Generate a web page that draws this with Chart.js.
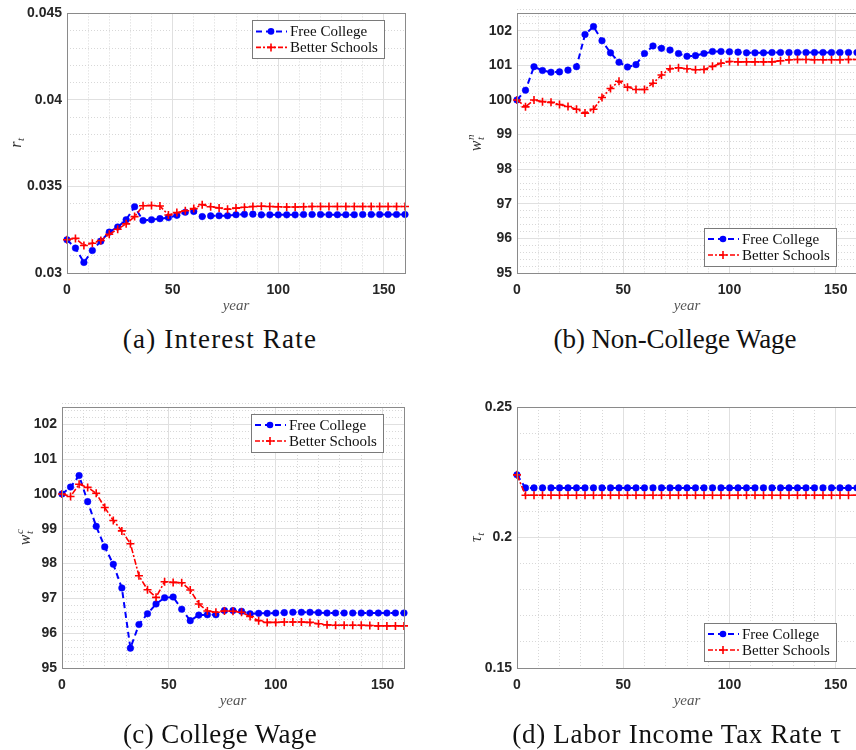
<!DOCTYPE html>
<html><head><meta charset="utf-8">
<script src="https://cdn.jsdelivr.net/npm/chart.js@4.4.1/dist/chart.umd.min.js"></script>
<style>
html,body{margin:0;padding:0;background:#fff;width:856px;height:750px;overflow:hidden;position:relative;}
canvas{position:absolute;}
.cap{position:absolute;font-family:"Liberation Serif","Times New Roman",serif;font-size:27px;color:#111;white-space:nowrap;transform:translate(-50%,-50%);line-height:1;}
</style></head><body>
<canvas id="pa" width="430" height="320" style="left:0;top:0"></canvas>
<canvas id="pb" width="440" height="320" style="left:430px;top:0"></canvas>
<canvas id="pc" width="430" height="330" style="left:0;top:390px"></canvas>
<canvas id="pd" width="440" height="330" style="left:430px;top:390px"></canvas>
<div class="cap" id="capA" style="left:220px;top:339px;letter-spacing:1.2px">(a) Interest Rate</div>
<div class="cap" id="capB" style="left:675px;top:339px;letter-spacing:-0.1px">(b) Non-College Wage</div>
<div class="cap" id="capC" style="left:220px;top:734px;letter-spacing:0.4px">(c) College Wage</div>
<div class="cap" id="capD" style="left:677px;top:734px;letter-spacing:0.7px">(d) Labor Income Tax Rate τ</div>
<script>
// ---------- data ----------
const years = [0,4,8,12,16,20,24,28,32,36,40,44,48,52,56,60,64,68,72,76,80,84,88,92,96,100,104,108,112,116,120,124,128,132,136,140,144,148,152,156,160];
const seriesNames = ['Free College', 'Better Schools'];
const xTicks = [0, 50, 100, 150];
const xTickLabels = ['0', '50', '100', '150'];
const xTitle = 'year';

const rateFree = [0.03192,0.03144,0.03061,0.03130,0.03184,0.03236,0.03266,0.03308,0.03383,0.03303,0.03308,0.03314,0.03320,0.03333,0.03351,0.03356,0.03326,0.03330,0.03331,0.03331,0.03337,0.03339,0.03340,0.03336,0.03336,0.03336,0.03336,0.03336,0.03338,0.03338,0.03338,0.03337,0.03337,0.03337,0.03337,0.03338,0.03338,0.03338,0.03338,0.03338,0.03338];
const rateSchools = [0.03192,0.03200,0.03159,0.03172,0.03188,0.03224,0.03253,0.03284,0.03326,0.03389,0.03390,0.03387,0.03335,0.03349,0.03360,0.03372,0.03395,0.03383,0.03376,0.03368,0.03375,0.03380,0.03384,0.03386,0.03384,0.03383,0.03381,0.03381,0.03383,0.03384,0.03384,0.03384,0.03384,0.03384,0.03384,0.03384,0.03384,0.03384,0.03384,0.03384,0.03384];
const rateTicks = [0.03, 0.035, 0.04, 0.045];
const rateTickLabels = ['0.03', '0.035', '0.04', '0.045'];

const wnFree = [100.00,100.28,100.96,100.85,100.80,100.81,100.86,100.96,101.89,102.12,101.71,101.36,101.09,100.95,101.02,101.34,101.56,101.49,101.44,101.34,101.26,101.28,101.34,101.40,101.40,101.39,101.38,101.36,101.36,101.36,101.37,101.37,101.37,101.37,101.37,101.37,101.37,101.37,101.37,101.37,101.37];
const wnSchools = [100.00,99.80,100.00,99.95,99.93,99.87,99.81,99.73,99.62,99.73,100.07,100.33,100.54,100.37,100.30,100.30,100.48,100.72,100.90,100.93,100.90,100.87,100.88,100.97,101.06,101.11,101.10,101.10,101.10,101.10,101.10,101.13,101.16,101.17,101.17,101.16,101.16,101.16,101.16,101.17,101.17];
const wageTicks = [95, 96, 97, 98, 99, 100, 101, 102];
const wageTickLabels = ['95', '96', '97', '98', '99', '100', '101', '102'];

const wcFree = [100.00,100.20,100.53,99.78,99.07,98.48,97.98,97.30,95.57,96.25,96.56,96.84,97.02,97.04,96.69,96.36,96.52,96.53,96.53,96.65,96.65,96.63,96.56,96.57,96.57,96.58,96.59,96.60,96.60,96.60,96.59,96.58,96.58,96.58,96.58,96.58,96.58,96.58,96.58,96.58,96.58];
const wcSchools = [100.00,99.93,100.28,100.19,100.02,99.61,99.24,98.94,98.57,97.65,97.25,97.03,97.48,97.46,97.45,97.24,96.84,96.64,96.60,96.64,96.63,96.60,96.48,96.36,96.31,96.31,96.32,96.32,96.32,96.31,96.27,96.24,96.23,96.23,96.23,96.23,96.22,96.21,96.21,96.21,96.21];

const taxFree = [0.2240,0.2190,0.2190,0.2190,0.2190,0.2190,0.2190,0.2190,0.2190,0.2190,0.2190,0.2190,0.2190,0.2190,0.2190,0.2190,0.2190,0.2190,0.2190,0.2190,0.2190,0.2190,0.2190,0.2190,0.2190,0.2190,0.2190,0.2190,0.2190,0.2190,0.2190,0.2190,0.2190,0.2190,0.2190,0.2190,0.2190,0.2190,0.2190,0.2190,0.2190];
const taxSchools = [0.2240,0.2162,0.2162,0.2162,0.2162,0.2162,0.2162,0.2162,0.2162,0.2162,0.2162,0.2162,0.2162,0.2162,0.2162,0.2162,0.2162,0.2162,0.2162,0.2162,0.2162,0.2162,0.2162,0.2162,0.2162,0.2162,0.2162,0.2162,0.2162,0.2162,0.2162,0.2162,0.2162,0.2162,0.2162,0.2162,0.2162,0.2162,0.2162,0.2162,0.2162];
const taxTicks = [0.15, 0.2, 0.25];
const taxTickLabels = ['0.15', '0.2', '0.25'];

// ---------- styling ----------
const BLUE = '#0000ff', RED = '#ff0000';
const TICK_FONT = {family: '"Liberation Sans", Arial, sans-serif', size: 14, weight: 'bold'};
const SERIF = '"Liberation Serif", "Times New Roman", serif';

function isMajor(v, step) { const r = v / step; return Math.abs(r - Math.round(r)) < 1e-6; }
function range(a, b, s) { const out = []; const n = Math.round((b - a) / s); for (let i = 0; i <= n; i++) out.push(+(a + i * s).toFixed(6)); return out; }

const framePlugin = {
  id: 'frame',
  afterDatasetsDraw(chart, args, o) {
    const {ctx, chartArea: a} = chart;
    ctx.save();
    ctx.strokeStyle = '#8a8a8a'; ctx.lineWidth = 1;
    ctx.strokeRect(Math.round(a.left) + 0.5, Math.round(a.top) + 0.5, Math.round(a.right - a.left), Math.round(a.bottom - a.top));
    ctx.restore();
    // legend box
    const bw = 132, bh = 38;
    const x = a.right - o.right - bw;
    const y = o.corner === 'ne' ? a.top + o.off : a.bottom - o.off - bh;
    ctx.save();
    ctx.fillStyle = '#fff'; ctx.fillRect(x, y, bw, bh);
    ctx.strokeStyle = '#7a7a7a'; ctx.lineWidth = 1;
    ctx.strokeRect(Math.round(x) + 0.5, Math.round(y) + 0.5, bw, bh);
    const rows = [y + 11, y + 27];
    // Free College sample
    ctx.strokeStyle = BLUE; ctx.lineWidth = 2; ctx.setLineDash([6, 4]);
    ctx.beginPath(); ctx.moveTo(x + 4, rows[0]); ctx.lineTo(x + 35, rows[0]); ctx.stroke();
    ctx.setLineDash([]);
    ctx.fillStyle = BLUE; ctx.beginPath(); ctx.arc(x + 19, rows[0], 3.3, 0, Math.PI * 2); ctx.fill();
    // Better Schools sample
    ctx.strokeStyle = RED; ctx.lineWidth = 1.6; ctx.setLineDash([5, 2, 2, 2]);
    ctx.beginPath(); ctx.moveTo(x + 4, rows[1]); ctx.lineTo(x + 35, rows[1]); ctx.stroke();
    ctx.setLineDash([]);
    ctx.lineWidth = 1.6;
    ctx.beginPath(); ctx.moveTo(x + 15, rows[1]); ctx.lineTo(x + 23, rows[1]); ctx.moveTo(x + 19, rows[1] - 4); ctx.lineTo(x + 19, rows[1] + 4); ctx.stroke();
    ctx.fillStyle = '#111'; ctx.font = '15px ' + SERIF; ctx.textBaseline = 'middle'; ctx.textAlign = 'left';
    ctx.fillText(seriesNames[0], x + 38, rows[0] + 1);
    ctx.fillText(seriesNames[1], x + 38, rows[1] + 1);
    ctx.restore();
    // y-axis label (rotated, with sub/superscript)
    const yl = o.ylabel;
    ctx.save();
    ctx.translate(yl.x, (a.top + a.bottom) / 2);
    ctx.rotate(-Math.PI / 2);
    ctx.fillStyle = '#333'; ctx.textBaseline = 'alphabetic'; ctx.textAlign = 'left';
    ctx.font = 'italic 16px ' + SERIF;
    const mw = ctx.measureText(yl.main).width;
    ctx.font = 'italic 11px ' + SERIF;
    const sw = Math.max(ctx.measureText(yl.sub).width, yl.sup ? ctx.measureText(yl.sup).width : 0);
    const x0 = -(mw + sw) / 2, base = 5;
    ctx.font = 'italic 16px ' + SERIF; ctx.fillText(yl.main, x0, base);
    ctx.font = 'italic 11px ' + SERIF;
    ctx.fillText(yl.sub, x0 + mw + 0.5, base + 3);
    if (yl.sup) ctx.fillText(yl.sup, x0 + mw + 0.5, base - 7);
    ctx.restore();
  }
};

function makeChart(id, g) {
  const W = g.W, H = g.H;
  const free = years.map((x, i) => ({x, y: g.free[i]}));
  const schools = years.map((x, i) => ({x, y: g.schools[i]}));
  return new Chart(document.getElementById(id), {
    type: 'line',
    data: {
      datasets: [
        {label: seriesNames[1], data: schools, borderColor: RED, backgroundColor: RED, borderWidth: 1.6,
         borderDash: [6, 2, 2, 2], pointStyle: 'cross', pointRadius: 4, pointBorderWidth: 1.6,
         pointBorderColor: RED, pointBackgroundColor: RED, tension: 0, clip: 8},
        {label: seriesNames[0], data: free, borderColor: BLUE, backgroundColor: BLUE, borderWidth: 2,
         borderDash: [6, 4], pointStyle: 'circle', pointRadius: 3.3, pointBorderWidth: 0.5,
         pointBorderColor: BLUE, pointBackgroundColor: BLUE, tension: 0, clip: 8}
      ]
    },
    options: {
      responsive: false, animation: false, devicePixelRatio: 1,
      layout: {padding: {left: 0, top: g.T, right: W - g.R, bottom: 0}},
      plugins: {legend: {display: false}, tooltip: {enabled: false},
        frame: {corner: g.corner, right: 21, off: 7, ylabel: g.ylabel}},
      scales: {
        xm: {type: 'linear', position: 'bottom', min: 0, max: 160, weight: 1,
          afterBuildTicks: s => { s.ticks = range(0, 160, 10).map(v => ({value: v})); },
          afterFit: s => { s.height = 0; },
          ticks: {display: false}, border: {display: false, dash: [1, 2]},
          grid: {drawTicks: false, lineWidth: 1, color: c => isMajor(c.tick.value, 50) ? 'rgba(0,0,0,0)' : '#d8d8d8'}},
        ym: {type: 'linear', position: 'left', min: g.yMin, max: g.yMax, weight: 1,
          afterBuildTicks: s => { s.ticks = range(g.yMin, g.yMax, g.minor).map(v => ({value: v})); },
          afterFit: s => { s.width = 0; },
          ticks: {display: false}, border: {display: false, dash: [1, 2]},
          grid: {drawTicks: false, lineWidth: 1, color: c => isMajor(c.tick.value - g.yMin, g.major) ? 'rgba(0,0,0,0)' : '#d8d8d8'}},
        x: {type: 'linear', position: 'bottom', min: 0, max: 160, weight: 0,
          afterBuildTicks: s => { s.ticks = xTicks.map(v => ({value: v})); },
          afterFit: s => { s.height = H - g.B; },
          ticks: {font: TICK_FONT, color: '#262626', padding: 9, maxRotation: 0,
            callback: v => { const i = xTicks.indexOf(v); return i >= 0 ? xTickLabels[i] : ''; }},
          border: {display: false},
          grid: {drawTicks: false, color: '#e0e0e0', lineWidth: 1},
          title: {display: true, text: xTitle, color: '#555',
            font: {family: SERIF, size: 15, style: 'italic', lineHeight: 1}, padding: {top: 0, bottom: g.xPad}}},
        y: {type: 'linear', position: 'left', min: g.yMin, max: g.yMax, weight: 0,
          afterBuildTicks: s => { s.ticks = g.yTicks.map(v => ({value: v})); },
          afterFit: s => { s.width = g.L; },
          ticks: {font: TICK_FONT, color: '#262626', padding: 5,
            callback: v => { const i = g.yTicks.findIndex(t => Math.abs(t - v) < 1e-9); return i >= 0 ? g.yLabels[i] : ''; }},
          border: {display: false},
          grid: {drawTicks: false, color: '#e0e0e0', lineWidth: 1}}
      }
    },
    plugins: [framePlugin]
  });
}

makeChart('pa', {W: 430, H: 320, L: 67, R: 405, T: 12, B: 273, xPad: 6,
  free: rateFree, schools: rateSchools, yMin: 0.03, yMax: 0.045, major: 0.005, minor: 0.001,
  yTicks: rateTicks, yLabels: rateTickLabels, corner: 'ne',
  ylabel: {x: 16, main: 'r', sub: 't'}});
makeChart('pb', {W: 440, H: 320, L: 87, R: 427, T: 13, B: 273, xPad: 6,
  free: wnFree, schools: wnSchools, yMin: 95, yMax: 102.5, major: 1, minor: 0.2,
  yTicks: wageTicks, yLabels: wageTickLabels, corner: 'se',
  ylabel: {x: 46, main: 'w', sub: 't', sup: 'n'}});
makeChart('pc', {W: 430, H: 330, L: 62, R: 404, T: 17, B: 278, xPad: 11,
  free: wcFree, schools: wcSchools, yMin: 95, yMax: 102.5, major: 1, minor: 0.2,
  yTicks: wageTicks, yLabels: wageTickLabels, corner: 'ne',
  ylabel: {x: 25, main: 'w', sub: 't', sup: 'c'}});
makeChart('pd', {W: 440, H: 330, L: 87, R: 427, T: 17, B: 278, xPad: 11,
  free: taxFree, schools: taxSchools, yMin: 0.15, yMax: 0.25, major: 0.05, minor: 0.01,
  yTicks: taxTicks, yLabels: taxTickLabels, corner: 'se',
  ylabel: {x: 46, main: 'τ', sub: 't'}});
</script>
</body></html>
